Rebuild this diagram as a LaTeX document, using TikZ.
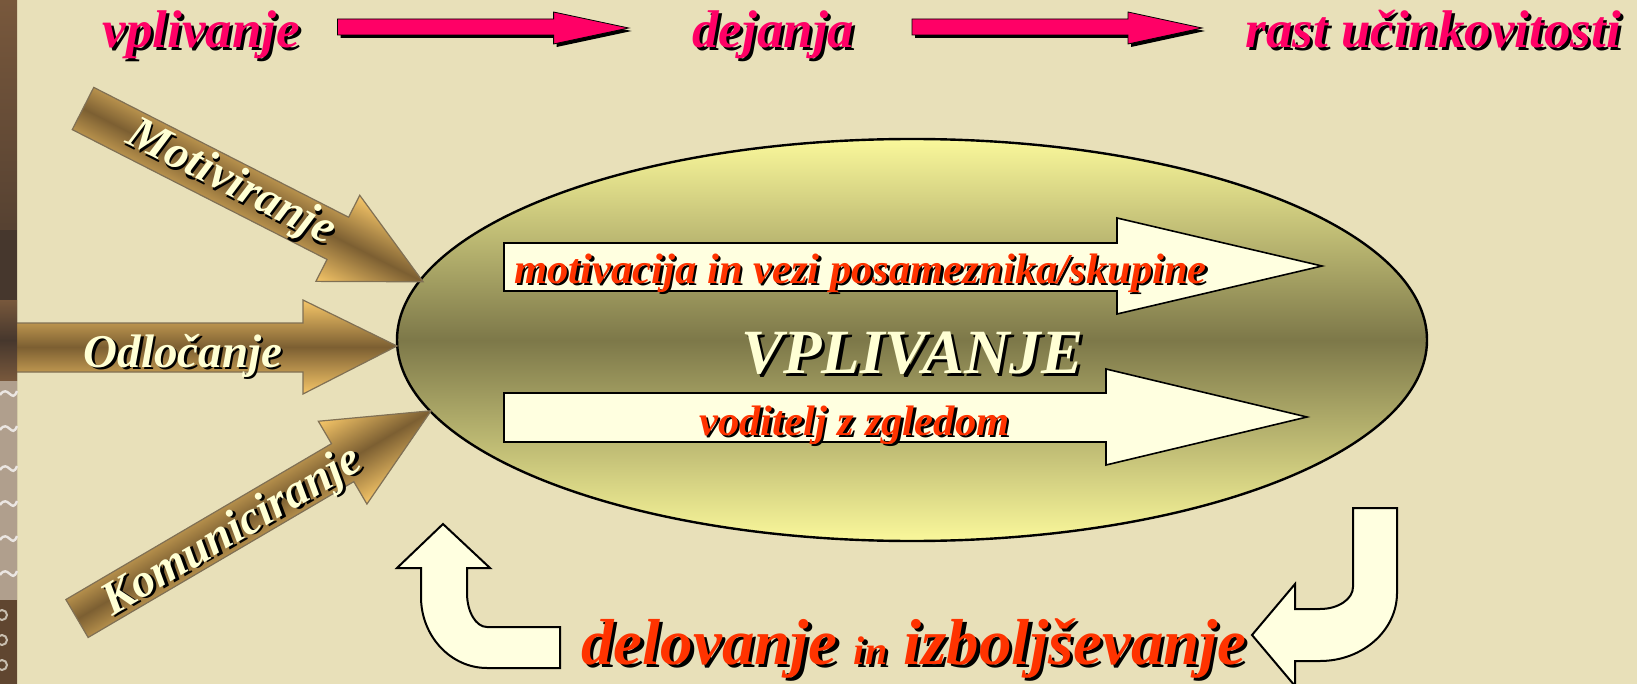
\documentclass[tikz,border=0pt]{standalone}
\usepackage{fontspec}
\setmainfont{Liberation Serif}
\usetikzlibrary{shapes.geometric}

\definecolor{bg}{RGB}{232,224,185}
\definecolor{pinkc}{RGB}{255,0,102}
\definecolor{redc}{RGB}{255,51,0}
\definecolor{creamc}{RGB}{255,255,224}
\definecolor{creamt}{RGB}{255,255,212}
\definecolor{goldL}{RGB}{246,198,104}
\definecolor{goldD}{RGB}{124,95,50}
\definecolor{goldB}{RGB}{128,112,84}
\definecolor{ellL}{RGB}{250,248,155}
\definecolor{ellD}{RGB}{125,120,73}
\definecolor{stripA}{RGB}{120,88,60}
\definecolor{stripB}{RGB}{70,55,45}
\definecolor{stripC}{RGB}{200,190,175}

\newcommand{\shtx}[3]{\makebox[0pt][l]{\hspace*{#1}\raisebox{-#1}{\color{black}#3}}{\color{#2}#3}}

\begin{document}
\begin{tikzpicture}[x=0.5pt,y=-0.5pt,
  toptext/.style={inner sep=0pt, anchor=base west, font=\fontsize{26.5}{30}\selectfont\bfseries\itshape},
  redtext/.style={inner sep=0pt, anchor=base west, font=\fontsize{21.3}{24}\selectfont\bfseries\itshape},
  goldtext/.style={inner sep=0pt, font=\fontsize{23.5}{26}\selectfont\bfseries\itshape},
  pinkarrow/.style={fill=pinkc, draw=black, line width=0.4pt},
  shadowarrow/.style={fill=black},
  goldarrow/.style={draw=goldB, line width=0.6pt, top color=goldL, bottom color=goldL, middle color=goldD},
  creamarrow/.style={fill=creamc, draw=black, line width=0.8pt},
  bentarrow/.style={fill=creamc, draw=black, line width=1pt}]

\useasboundingbox (0,0) rectangle (1637,684);
\fill[bg] (0,0) rectangle (1637,684);

% decorative left strip
\shade[top color=stripA, bottom color=stripA, middle color=stripB] (0,0) rectangle (17,684);
\fill[stripB] (0,230) rectangle (17,330);
\fill[stripC!70!stripA] (0,380) rectangle (17,600);
\foreach \yy in {395,430,470,505,540,575}{
  \draw[white!85!stripA, line width=1.2pt] (0,\yy) .. controls (8,\yy-12) and (12,\yy+10) .. (17,\yy-4);
}
\fill[stripA!80!black] (0,600) rectangle (17,684);
\foreach \yy in {615,640,665}{
  \draw[stripC, line width=1pt] (2,\yy) circle [radius=5];
}

% top row
\node[toptext] (t1) at (102.5,48) {\shtx{1.5pt}{pinkc}{vplivanje}};
\node[toptext] (t2) at (692,48) {\shtx{1.5pt}{pinkc}{dejanja}};
\node[toptext] (t3) at (1245,48) {\shtx{1.5pt}{pinkc}{rast učinkovitosti}};

\begin{scope}[shift={(3,3)}]
\fill[shadowarrow] (337.5,19) -- (553.6,19) -- (553.6,12) -- (628.6,28) -- (553.6,44) -- (553.6,35) -- (337.5,35) -- cycle;
\fill[shadowarrow] (912,19) -- (1128,19) -- (1128,12) -- (1202,28) -- (1128,44) -- (1128,35) -- (912,35) -- cycle;
\end{scope}
\draw[pinkarrow] (337.5,19) -- (553.6,19) -- (553.6,12) -- (628.6,28) -- (553.6,44) -- (553.6,35) -- (337.5,35) -- cycle;
\draw[pinkarrow] (912,19) -- (1128,19) -- (1128,12) -- (1202,28) -- (1128,44) -- (1128,35) -- (912,35) -- cycle;

% central ellipse
\node[ellipse, draw=black, line width=1.2pt, inner sep=0pt,
      minimum width=515pt, minimum height=201pt,
      top color=ellL, bottom color=ellL, middle color=ellD] (ell) at (912,340) {};

% inner arrows
\draw[creamarrow] (504,243) -- (1117,243) -- (1117,218) -- (1322,266) -- (1117,314) -- (1117,291) -- (504,291) -- cycle;
\draw[creamarrow] (504,393) -- (1106,393) -- (1106,369) -- (1307,417) -- (1106,465) -- (1106,442) -- (504,442) -- cycle;

\node[redtext] (mot) at (514,283) {\shtx{1.2pt}{redc}{motivacija in vezi posameznika/skupine}};
\node[redtext] (vod) at (699,435) {\shtx{1.2pt}{redc}{voditelj z zgledom}};
\node[inner sep=0pt, anchor=base west, font=\fontsize{31.5}{36}\selectfont\bfseries\itshape] (vpl) at (741,373) {\shtx{1.6pt}{creamt}{VPLIVANJE}};

% left golden arrows
\begin{scope}[transform canvas={shift={(83,108.5)}, rotate=-27.0}]
\shade[goldarrow] (0,-23.7) -- (286,-23.7) -- (286,-48.3) -- (381.7,0) -- (286,48.3) -- (286,23.7) -- (0,23.7) -- cycle;
\node[goldtext] (motiv) at (166,1) {\shtx{1.2pt}{creamt}{Motiviranje}};
\end{scope}

\shade[goldarrow] (10,323) -- (303,323) -- (303,300) -- (397,346) -- (303,394) -- (303,372) -- (10,372) -- cycle;
\node[goldtext, anchor=base] (odl) at (183,367) {\shtx{1.2pt}{creamt}{Odločanje}};

\begin{scope}[transform canvas={shift={(77,618.5)}, rotate=30.4}]
\shade[goldarrow] (0,-22) -- (308,-22) -- (308,-48) -- (410.6,0) -- (308,48) -- (308,22) -- (0,22) -- cycle;
\node[goldtext] (komun) at (178,6) {\shtx{1.2pt}{creamt}{Komuniciranje}};
\end{scope}

% strip over the shaft start
\shade[top color=stripA, bottom color=stripA, middle color=stripB] (0,300) rectangle (17,380);

% bent arrows at the bottom
\draw[bentarrow] (443,524) -- (490,568) -- (467,568) -- (467,593)
  .. controls (467,612) and (476,627) .. (487,627) -- (560,627) -- (560,668) -- (487,668)
  .. controls (450.6,668) and (421,636) .. (421,597) -- (421,568) -- (397,568) -- cycle;

\draw[bentarrow] (1353,508) -- (1397,508) -- (1397,593)
  .. controls (1397,630.5) and (1362.5,661) .. (1320,661) -- (1295,661) -- (1295,686)
  -- (1252,635) -- (1295,584) -- (1295,609) -- (1320,609)
  .. controls (1338.2,609) and (1353,599.1) .. (1353,587) -- cycle;

\node[inner sep=0pt, anchor=base west, font=\fontsize{32.5}{36}\selectfont\bfseries\itshape] (bot) at (581,664)
  {\shtx{1.6pt}{redc}{delovanje {\fontsize{20}{22}\selectfont in} izboljševanje}};

\end{tikzpicture}
\end{document}
